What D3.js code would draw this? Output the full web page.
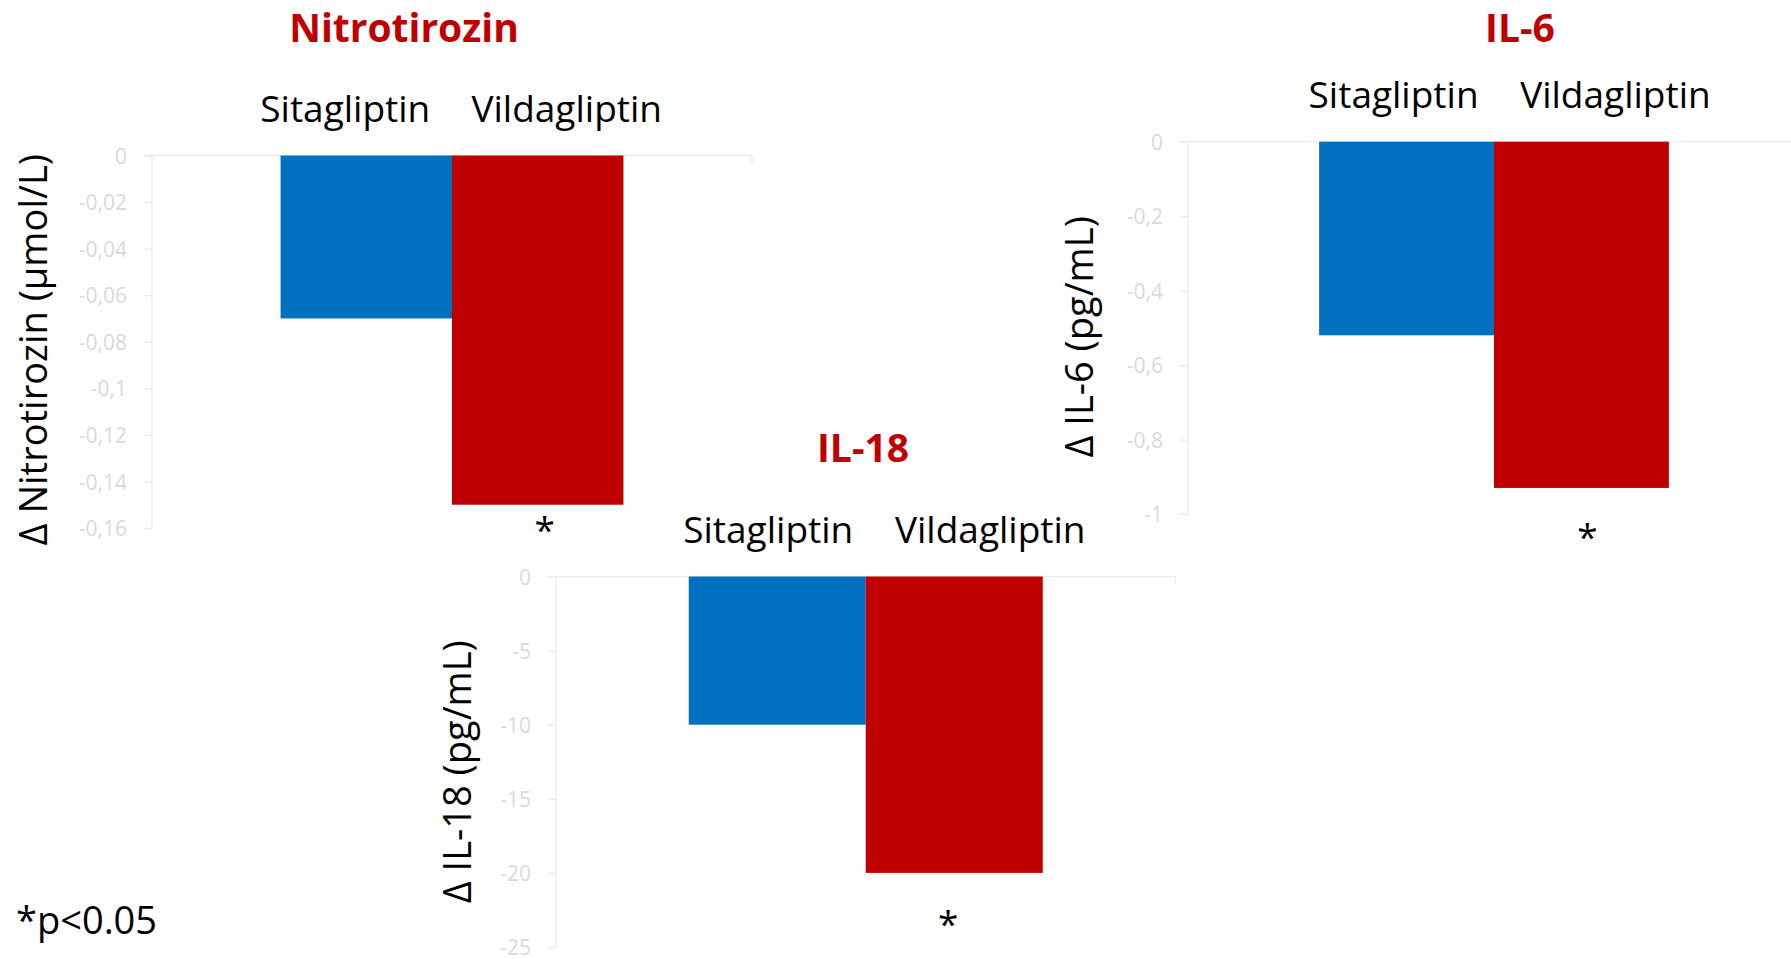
<!DOCTYPE html>
<html>
<head>
<meta charset="utf-8">
<script src="https://cdn.jsdelivr.net/npm/d3@7/dist/d3.min.js"></script>
<style>
  html, body { margin: 0; padding: 0; background: #ffffff; }
  svg { display: block; }
  text { font-family: "Open Sans", "DejaVu Sans", sans-serif; }
</style>
</head>
<body>
<svg id="chart" width="1791" height="959"></svg>
<script>
// ---- data ----
const panels = ["Nitrotirozin", "IL-6", "IL-18"];
const seriesNames = ["Sitagliptin", "Vildagliptin"];
const sitagliptin = [-0.07, -0.52, -10];
const vildagliptin = [-0.15, -0.93, -20];
const axisTitles = ["\u0394 Nitrotirozin (\u00b5mol/L)", "\u0394 IL-6 (pg/mL)", "\u0394 IL-18 (pg/mL)"];
const nitroTicks = [0, -0.02, -0.04, -0.06, -0.08, -0.1, -0.12, -0.14, -0.16];
const il6Ticks = [0, -0.2, -0.4, -0.6, -0.8, -1];
const il18Ticks = [0, -5, -10, -15, -20, -25];
const panelTicks = [nitroTicks, il6Ticks, il18Ticks];
const significance = ["", "*"];   // marker per series
const footnote = "*p<0.05";

// ---- styling / layout ----
const colors = ["#0070C0", "#C00000"];
const titleColor = "#C00000";
const axisColor = "#EBEBEB";
const tickLabelColor = "#D9D9D9";

const layout = [
  { x0: 152,  x1: 752,    y0: 155.5, y1: 528, titleX: 404,  titleY: 42,  yTitleX: 47,   yTitleDy: 8,  labelDx: [-21, 29], starDx: 7,  starY: 543 },
  { x0: 1188, x1: 1800,   y0: 141.7, y1: 514, titleX: 1520, titleY: 42,  yTitleX: 1093, yTitleDy: 9,  labelDx: [-13, 34], starDx: 6,  starY: 550 },
  { x0: 556,  x1: 1175.5, y0: 576.5, y1: 947, titleX: 863,  titleY: 462, yTitleX: 471,  yTitleDy: 10, labelDx: [-9, 36],  starDx: -6, starY: 937 }
];

const commaLocale = d3.formatLocale({ decimal: ",", thousands: ".", grouping: [3], currency: ["", ""], minus: "-" });
const fmt = commaLocale.format("~g");

const svg = d3.select("#chart");

panels.forEach((name, i) => {
  const L = layout[i];
  const ticks = panelTicks[i];
  const values = [sitagliptin[i], vildagliptin[i]];
  const g = svg.append("g").attr("class", "panel");

  const y = d3.scaleLinear()
    .domain([d3.min(ticks), 0])
    .range([L.y1, L.y0]);

  // one category, two series, 150% gap width on each side
  const x = d3.scaleBand()
    .domain(seriesNames)
    .range([L.x0, L.x1])
    .paddingInner(0)
    .paddingOuter(0.75);

  // value axis
  const yAxis = d3.axisLeft(y)
    .tickValues(ticks)
    .tickFormat(fmt)
    .tickSize(8)
    .tickPadding(17);
  const ya = g.append("g")
    .attr("transform", `translate(${L.x0},0)`)
    .call(yAxis);
  ya.select(".domain").attr("stroke", axisColor).attr("stroke-width", 1.3)
    .attr("d", `M0,${L.y0}V${L.y1}`);
  ya.selectAll(".tick line").attr("stroke", axisColor).attr("stroke-width", 1.3);
  ya.selectAll(".tick text")
    .attr("fill", tickLabelColor)
    .style("font-size", "21px")
    .attr("dy", "0.36em");

  // category axis at zero
  g.append("line")
    .attr("x1", L.x0 - 8).attr("x2", L.x1)
    .attr("y1", y(0)).attr("y2", y(0))
    .attr("stroke", axisColor).attr("stroke-width", 1.3);
  g.append("line")
    .attr("x1", L.x1).attr("x2", L.x1)
    .attr("y1", y(0)).attr("y2", y(0) + 8)
    .attr("stroke", axisColor).attr("stroke-width", 1.3);

  // bars
  g.selectAll("rect.bar")
    .data(seriesNames.map((s, k) => ({ s, v: values[k], k })))
    .join("rect")
    .attr("class", "bar")
    .attr("x", d => x(d.s))
    .attr("width", x.bandwidth())
    .attr("y", d => y(Math.max(0, d.v)))
    .attr("height", d => Math.abs(y(d.v) - y(0)))
    .attr("fill", d => colors[d.k]);

  // series names above the bars
  g.selectAll("text.series")
    .data(seriesNames)
    .join("text")
    .attr("class", "series")
    .attr("x", (s, k) => x(s) + x.bandwidth() / 2 + L.labelDx[k])
    .attr("y", y(0) - 34)
    .attr("text-anchor", "middle")
    .style("font-size", "37px")
    .attr("fill", "#000")
    .text(s => s);

  // significance markers
  g.selectAll("text.sig")
    .data(seriesNames.filter((s, k) => significance[k]))
    .join("text")
    .attr("class", "sig")
    .attr("x", s => x(s) + x.bandwidth() / 2 + L.starDx)
    .attr("y", L.starY)
    .attr("text-anchor", "middle")
    .style("font-size", "37px")
    .attr("fill", "#000")
    .text(s => significance[seriesNames.indexOf(s)]);

  // panel title
  g.append("text")
    .attr("x", L.titleX)
    .attr("y", L.titleY)
    .attr("text-anchor", "middle")
    .style("font-size", "39px")
    .style("font-weight", "700")
    .attr("fill", titleColor)
    .text(name);

  // value axis title
  g.append("text")
    .attr("transform", `translate(${L.yTitleX},${(L.y0 + L.y1) / 2 + L.yTitleDy}) rotate(-90)`)
    .attr("text-anchor", "middle")
    .style("font-size", "38px")
    .attr("fill", "#000")
    .text(axisTitles[i]);
});

svg.append("text")
  .attr("x", 16)
  .attr("y", 934)
  .style("font-size", "38px")
  .attr("fill", "#000")
  .text(footnote);
</script>
</body>
</html>
